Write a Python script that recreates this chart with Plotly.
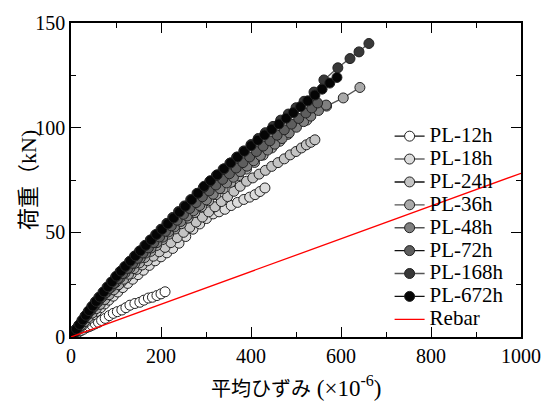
import plotly.graph_objects as go

# Average strain (x10^-6) and load (kN) for each specimen
pl12_x = [0, 5, 10, 16, 22, 28, 35, 41, 47, 54, 61, 68, 76, 85, 94, 103, 113, 122, 131, 142, 153, 162, 172, 181, 191, 200, 209]
pl12_y = [0, 0.8, 1.5, 2.3, 3.0, 3.7, 4.5, 5.0, 5.6, 6.3, 7.0, 7.9, 8.9, 10.2, 11.3, 12.1, 12.9, 14.0, 15.2, 16.0, 16.6, 17.6, 18.6, 19.0, 19.8, 20.6, 21.6]

pl18_x = [0, 6, 12, 19, 26, 33, 41, 49, 57, 66, 75, 84, 94, 104, 115, 126, 137, 149, 161, 174, 187, 200, 213, 226, 240, 255, 271, 286, 301, 316, 329, 342, 356, 370, 384, 397, 409, 420, 431]
pl18_y = [0, 1.4, 2.7, 4.2, 5.7, 7.2, 8.9, 10.6, 12.2, 14.0, 15.8, 17.6, 19.5, 21.5, 23.6, 25.6, 27.6, 29.8, 31.9, 34.2, 36.4, 38.3, 40.2, 42.3, 44.8, 48.0, 51.5, 54.0, 56.6, 58.8, 59.8, 61.0, 62.8, 64.3, 65.7, 66.8, 68.0, 69.5, 71.2]

pl24_x = [0, 6, 13, 20, 28, 36, 44, 53, 62, 71, 81, 91, 101, 112, 123, 134, 146, 158, 170, 183, 196, 209, 222, 236, 250, 264, 278, 292, 306, 320, 334, 348, 362, 376, 390, 404, 418, 432, 446, 460, 474, 487, 500, 512, 523, 533, 542]
pl24_y = [0, 1.9, 4.0, 6.0, 8.2, 10.2, 12.1, 14.2, 16.2, 18.1, 20.2, 22.2, 24.1, 26.2, 28.2, 30.2, 32.3, 34.4, 36.4, 38.6, 40.7, 42.8, 45.1, 47.5, 50.0, 52.4, 54.9, 57.3, 59.8, 62.2, 64.7, 67.1, 69.6, 72.0, 74.4, 76.0, 77.8, 79.6, 81.5, 83.3, 85.1, 87.0, 88.6, 90.3, 91.8, 93.0, 94.2]

pl36_x = [0, 7, 14, 22, 30, 38, 47, 56, 65, 75, 85, 95, 106, 117, 128, 140, 152, 164, 177, 190, 203, 217, 231, 245, 260, 275, 290, 306, 322, 338, 355, 372, 390, 408, 427, 446, 464, 482, 524, 568, 605, 642]
pl36_y = [0, 1.8, 3.5, 5.5, 7.4, 9.3, 11.4, 13.5, 15.6, 17.9, 20.2, 22.5, 25.0, 27.6, 30.0, 32.7, 35.4, 38.0, 40.9, 43.7, 46.5, 49.1, 51.6, 54.1, 56.8, 59.5, 62.2, 65.1, 68.0, 70.8, 73.9, 77.0, 80.2, 83.4, 86.9, 90.3, 93.5, 96.8, 103.6, 110.3, 114.2, 119.2]

pl48_x = [0, 6, 13, 20, 28, 36, 44, 52, 61, 70, 79, 89, 99, 109, 120, 131, 142, 154, 166, 178, 191, 204, 217, 230, 244, 258, 272, 286, 301, 316, 331, 346, 361, 376, 391, 406, 421, 437, 453, 469, 485, 501, 517, 533, 550, 567]
pl48_y = [0, 1.9, 4.0, 6.1, 8.4, 10.6, 12.7, 14.8, 17.1, 19.3, 21.4, 23.7, 26.0, 28.2, 30.6, 32.9, 35.2, 37.7, 40.1, 42.5, 45.1, 47.7, 50.2, 52.6, 55.2, 57.8, 60.3, 62.8, 65.5, 68.2, 70.9, 73.6, 76.3, 79.0, 81.6, 84.2, 86.7, 89.3, 92.1, 94.8, 97.5, 100.2, 102.9, 105.5, 108.2, 110.8]

pl72_x = [0, 6, 12, 19, 26, 34, 42, 50, 58, 67, 76, 85, 95, 105, 115, 126, 137, 148, 160, 172, 184, 197, 210, 223, 236, 250, 264, 278, 292, 307, 322, 337, 352, 367, 382, 397, 412, 427, 442, 458, 474, 490, 506, 522, 535, 548]
pl72_y = [0, 1.9, 3.7, 5.8, 7.8, 10.0, 12.2, 14.3, 16.4, 18.7, 21.0, 23.2, 25.6, 28.0, 30.3, 32.8, 35.2, 37.6, 40.1, 42.6, 45.1, 47.8, 50.5, 53.1, 55.8, 58.6, 61.4, 64.2, 67.0, 69.8, 72.6, 75.3, 78.0, 80.7, 83.3, 86.0, 88.6, 91.2, 93.7, 96.4, 99.0, 101.7, 104.4, 107.0, 109.4, 111.8]

pl168_x = [0, 5, 11, 17, 24, 31, 38, 46, 54, 62, 71, 80, 89, 99, 109, 119, 130, 141, 152, 164, 176, 188, 200, 213, 226, 239, 252, 266, 280, 294, 308, 323, 338, 353, 368, 384, 400, 416, 432, 449, 466, 483, 500, 518, 540, 562, 593, 620, 640, 662]
pl168_y = [0, 1.7, 3.7, 5.6, 7.8, 10.0, 12.1, 14.5, 16.8, 19.0, 21.4, 23.8, 26.1, 28.7, 31.2, 33.5, 36.0, 38.6, 41.0, 43.7, 46.3, 48.9, 51.5, 54.3, 57.1, 59.9, 62.6, 65.6, 68.6, 71.4, 74.2, 77.2, 80.1, 83.0, 85.9, 88.9, 91.9, 94.8, 97.6, 100.6, 103.6, 106.5, 109.5, 112.6, 117.0, 122.8, 128.6, 133.0, 136.2, 140.2]

pl672_x = [0, 6, 12, 19, 26, 33, 40, 48, 56, 64, 73, 82, 91, 101, 111, 121, 132, 143, 154, 166, 178, 190, 202, 215, 228, 241, 254, 268, 282, 296, 310, 325, 340, 355, 370, 385, 400, 415, 430, 446, 462, 478, 494, 510, 526, 542, 558, 575, 591]
pl672_y = [0, 1.9, 3.8, 6.0, 8.2, 10.4, 12.6, 14.8, 17.0, 19.1, 21.6, 24.0, 26.4, 29.1, 31.5, 33.8, 36.3, 38.8, 41.2, 43.8, 46.4, 49.0, 51.4, 54.1, 56.9, 59.7, 62.5, 65.6, 68.7, 72.0, 74.7, 77.5, 80.4, 83.2, 86.0, 88.7, 91.4, 94.0, 96.5, 99.2, 101.7, 104.5, 107.2, 110.0, 112.8, 115.6, 118.4, 121.3, 124.0]

rebar_x = [0, 1000]
rebar_y = [0, 78.2]

series = [
    ("PL-12h", pl12_x, pl12_y, "#ffffff", "#111111"),
    ("PL-18h", pl18_x, pl18_y, "#dcdcdc", "#666666"),
    ("PL-24h", pl24_x, pl24_y, "#c4c4c4", "#111111"),
    ("PL-36h", pl36_x, pl36_y, "#a9a9a9", "#555555"),
    ("PL-48h", pl48_x, pl48_y, "#808080", "#555555"),
    ("PL-72h", pl72_x, pl72_y, "#5e5e5e", "#111111"),
    ("PL-168h", pl168_x, pl168_y, "#383838", "#555555"),
    ("PL-672h", pl672_x, pl672_y, "#050505", "#111111"),
]

SERIF = "Liberation Serif, Noto Sans CJK JP, serif"
LEG_SIZE = 21

fig = go.Figure()
for name, xs, ys, fill, line in series:
    fig.add_trace(go.Scatter(
        x=xs, y=ys, name=f"<span style='font-size:{LEG_SIZE}px'>{name}</span>",
        mode="lines+markers",
        line=dict(color=line, width=1.4),
        marker=dict(symbol="circle", size=10, color=fill,
                    line=dict(color="#222222", width=1)),
    ))

fig.add_trace(go.Scatter(
    x=rebar_x, y=rebar_y, name=f"<span style='font-size:{LEG_SIZE}px'>Rebar</span>",
    mode="lines", line=dict(color="#ff0000", width=1.3),
))

axis_common = dict(
    showline=True, linecolor="black", linewidth=1.5, mirror="ticks",
    ticks="inside", ticklen=10, tickwidth=1.2, tickcolor="black",
    showgrid=False, zeroline=False,
    tickfont=dict(family=SERIF, size=20, color="black"),
)

fig.update_layout(
    width=554, height=401,
    margin=dict(l=71, r=33, t=18, b=64),
    paper_bgcolor="white", plot_bgcolor="white",
    font=dict(family=SERIF, color="black", size=20),
    showlegend=True,
    legend=dict(
        x=0.708, y=0.692, xanchor="left", yanchor="top",
        bgcolor="rgba(0,0,0,0)", borderwidth=0,
        font=dict(family=SERIF, size=15.3, color="black"),
        tracegroupgap=0,
    ),
    xaxis=dict(
        range=[0, 1000], dtick=200, tick0=0,
        minor=dict(dtick=100, ticks="inside", ticklen=5, tickwidth=1.2, tickcolor="black"),
        **axis_common,
    ),
    yaxis=dict(
        range=[0, 150], dtick=50, tick0=0,
        minor=dict(dtick=25, ticks="inside", ticklen=5, tickwidth=1.2, tickcolor="black"),
        **axis_common,
    ),
    annotations=[
        dict(
            text="平均ひずみ<span style='font-size:23px'> (×10<sup>-6</sup>)</span>",
            xref="paper", yref="paper", x=0.5, y=-0.157,
            xanchor="center", yanchor="middle", showarrow=False,
            font=dict(family=SERIF, size=20, color="black"),
        ),
        dict(
            text="荷重（kN)",
            xref="paper", yref="paper", x=-0.0956, y=0.50,
            xanchor="center", yanchor="middle", showarrow=False, textangle=-90,
            font=dict(family=SERIF, size=22, color="black"),
        ),
    ],
)

fig.write_html("out.html")
